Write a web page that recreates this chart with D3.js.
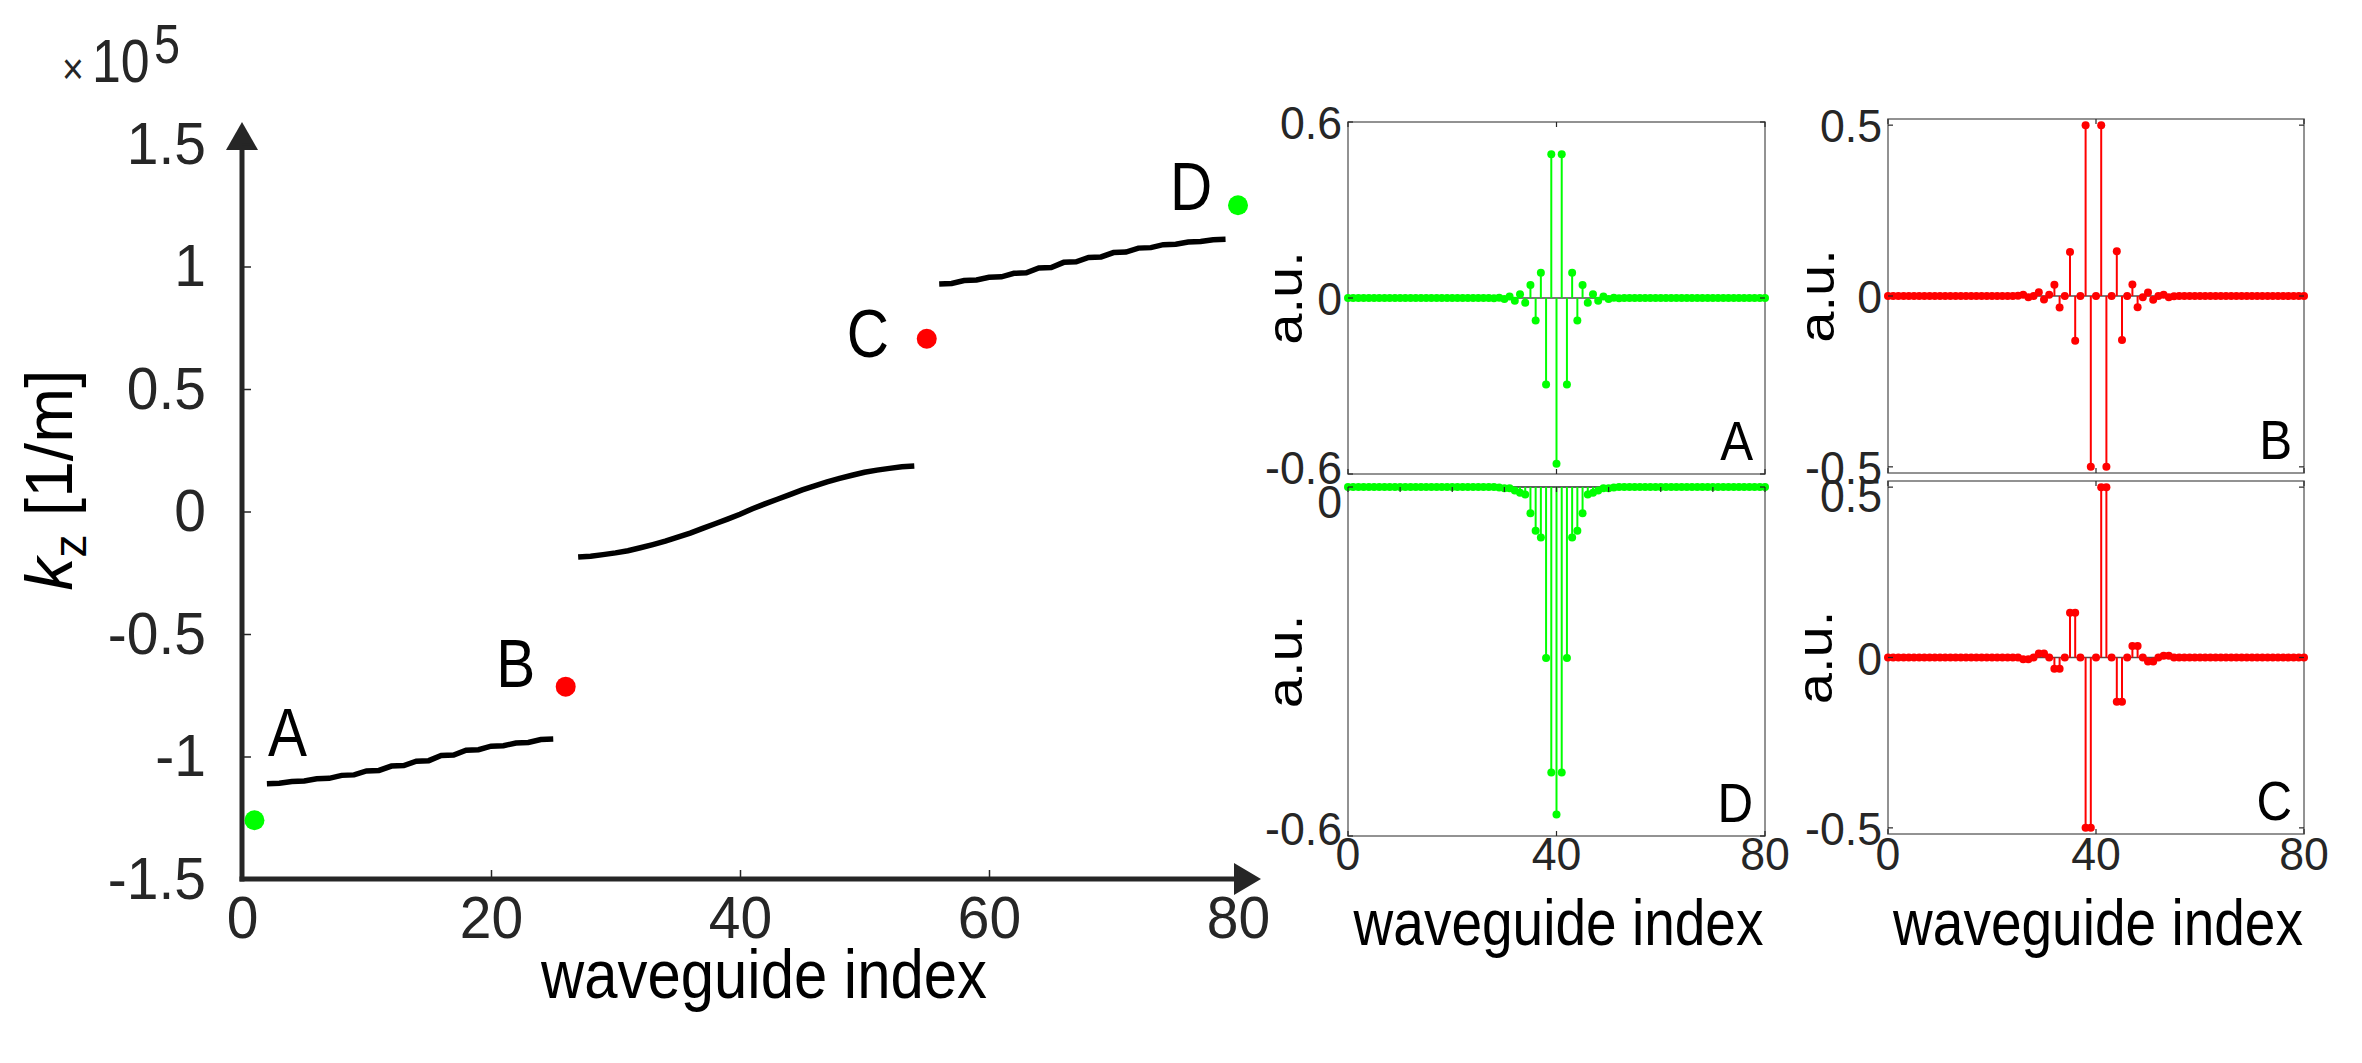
<!DOCTYPE html>
<html>
<head>
<meta charset="utf-8">
<script src="https://cdn.jsdelivr.net/npm/d3@7"></script>
<style>
body { margin: 0; background: #fff; }
svg { display: block; font-family: "Liberation Sans", Arial, Helvetica, sans-serif; }
</style>
</head>
<body>
<div id="figure"></div>
<script>
// ---------- data ----------
// left plot: kz (x 1e5 1/m) of the array modes vs mode number
var kzTicks = [-1.5, -1, -0.5, 0, 0.5, 1, 1.5];
var indexTicks = [0, 20, 40, 60, 80];

// outer bands come in near-degenerate pairs (the staircase look)
var lowerStart = 2;
var lowerBand = [-1.111, -1.109, -1.102, -1.100, -1.091, -1.089, -1.077, -1.075, -1.059, -1.057,
  -1.039, -1.037, -1.019, -1.017, -0.996, -0.994, -0.974, -0.972, -0.958, -0.956,
  -0.945, -0.943, -0.931, -0.929];
var middleStart = 27;
var middleBand = [-0.186, -0.183, -0.176, -0.169, -0.160, -0.148, -0.135, -0.121, -0.105, -0.088,
  -0.069, -0.050, -0.031, -0.011, 0.011, 0.031, 0.050, 0.069, 0.088, 0.105,
  0.121, 0.135, 0.148, 0.160, 0.169, 0.176, 0.183, 0.186];
var upperStart = 56;
var upperBand = [0.929, 0.931, 0.943, 0.945, 0.956, 0.958, 0.972, 0.974, 0.994, 0.996,
  1.017, 1.019, 1.037, 1.039, 1.057, 1.059, 1.075, 1.077, 1.089, 1.091,
  1.100, 1.102, 1.109, 1.111];

var modeNames = ["A", "B", "C", "D"];
var modeIndex = [1, 26, 55, 80];
var modeKz = [-1.26, -0.715, 0.705, 1.25];

// right plots: field profiles of modes A-D over waveguides 0..80
var profileTicksX = [0, 40, 80];
var ticksA = [-0.6, 0, 0.6];
var ticksB = [-0.5, 0, 0.5];
var ticksC = [-0.5, 0, 0.5];
var ticksD = [-0.6, 0];

var profileA = [
  0, 0, 0, 0, 0, 0, 0, 0, 0, 0,
  0, 0, 0, 0, 0, 0, 0, 0, 0, 0,
  0, 0, 0, 0, 0, 0, 0, 0, -0.001, 0.001,
  -0.003, 0.005, -0.009, 0.013, -0.016, 0.044, -0.077, 0.086, -0.295, 0.490,
  -0.565, 0.490, -0.295, 0.086, -0.077, 0.044, -0.016, 0.013, -0.009, 0.005,
  -0.003, 0.001, -0.001, 0, 0, 0, 0, 0, 0, 0,
  0, 0, 0, 0, 0, 0, 0, 0, 0, 0,
  0, 0, 0, 0, 0, 0, 0, 0, 0, 0,
  0];
var profileB = [
  0, 0, 0, 0, 0, 0, 0, 0, 0, 0,
  0, 0, 0, 0, 0, 0, 0, 0, 0, 0,
  0, 0, 0, 0, 0, 0.001, 0.004, -0.004, 0, 0.011,
  -0.010, 0.004, 0.033, -0.034, 0, 0.129, -0.131, 0, 0.500, -0.500,
  0, 0.500, -0.500, 0, 0.131, -0.129, 0, 0.034, -0.033, -0.004,
  0.010, -0.011, 0, 0.004, -0.004, -0.001, 0, 0, 0, 0,
  0, 0, 0, 0, 0, 0, 0, 0, 0, 0,
  0, 0, 0, 0, 0, 0, 0, 0, 0, 0,
  0];
var profileC = [
  0, 0, 0, 0, 0, 0, 0, 0, 0, 0,
  0, 0, 0, 0, 0, 0, 0, 0, 0, 0,
  0, 0, 0, 0, 0, 0, -0.005, -0.005, 0, 0.012,
  0.012, 0, -0.033, -0.033, 0, 0.131, 0.131, 0, -0.500, -0.500,
  0, 0.500, 0.500, 0, -0.130, -0.130, 0, 0.034, 0.034, 0,
  -0.012, -0.012, 0, 0.005, 0.005, 0, 0, 0, 0, 0,
  0, 0, 0, 0, 0, 0, 0, 0, 0, 0,
  0, 0, 0, 0, 0, 0, 0, 0, 0, 0,
  0];
var profileD = [
  0, 0, 0, 0, 0, 0, 0, 0, 0, 0,
  0, 0, 0, 0, 0, 0, 0, 0, 0, 0,
  0, 0, 0, 0, 0, 0, 0, 0, 0, -0.001,
  -0.002, -0.002, -0.006, -0.010, -0.013, -0.045, -0.075, -0.087, -0.294, -0.491,
  -0.563, -0.491, -0.294, -0.087, -0.075, -0.045, -0.013, -0.010, -0.006, -0.002,
  -0.002, -0.001, 0, 0, 0, 0, 0, 0, 0, 0,
  0, 0, 0, 0, 0, 0, 0, 0, 0, 0,
  0, 0, 0, 0, 0, 0, 0, 0, 0, 0,
  0];

// ---------- layout ----------
var svgWidth = 2362;
var svgHeight = 1063;
var green = "#00ff00";
var red = "#ff0000";
var axisColor = "#262626";

var svg = d3.select("#figure")
  .append("svg")
  .attr("width", svgWidth)
  .attr("height", svgHeight);

// text with a slight horizontal squeeze, like the original export
function addText(g, str, x, y, size, sx, anchor, rot) {
  var tf = "translate(" + x + "," + y + ")";
  if (rot) tf += " rotate(" + rot + ") scale(1," + sx + ")";
  else tf += " scale(" + sx + ",1)";
  return g.append("text")
    .attr("transform", tf)
    .attr("text-anchor", anchor)
    .attr("font-size", size)
    .text(str);
}

// ---------- main plot ----------
var xMain = d3.scaleLinear().domain([0, 80]).range([242, 1238]);
var yMain = d3.scaleLinear().domain([-1.5, 1.5]).range([879, 144]);

var main = svg.append("g");

// axes with arrow heads
main.append("line")
  .attr("x1", xMain(0)).attr("y1", yMain(-1.5) + 2.5)
  .attr("x2", xMain(0)).attr("y2", 148)
  .attr("stroke", axisColor).attr("stroke-width", 5);
main.append("path")
  .attr("d", "M" + (xMain(0) - 16) + ",150 L" + xMain(0) + ",122 L" + (xMain(0) + 16) + ",150 Z")
  .attr("fill", axisColor);
main.append("line")
  .attr("x1", xMain(0) - 2.5).attr("y1", yMain(-1.5))
  .attr("x2", 1236).attr("y2", yMain(-1.5))
  .attr("stroke", axisColor).attr("stroke-width", 5);
main.append("path")
  .attr("d", "M1234," + (yMain(-1.5) - 16) + " L1261," + yMain(-1.5) + " L1234," + (yMain(-1.5) + 16) + " Z")
  .attr("fill", axisColor);

var leftAxis = d3.axisLeft(yMain)
  .tickValues(kzTicks)
  .tickSizeInner(-9)
  .tickSizeOuter(0)
  .tickPadding(38)
  .tickFormat(function(d) { return String(d); });
var bottomAxis = d3.axisBottom(xMain)
  .tickValues(indexTicks)
  .tickSizeInner(-9)
  .tickSizeOuter(0)
  .tickPadding(16)
  .tickFormat(function(d) { return String(d); });

main.append("g")
  .attr("transform", "translate(" + xMain(0) + ",0)")
  .call(leftAxis)
  .call(function(g) { g.select(".domain").remove(); });
main.append("g")
  .attr("transform", "translate(0," + yMain(-1.5) + ")")
  .call(bottomAxis)
  .call(function(g) { g.select(".domain").remove(); });

main.selectAll(".tick line").attr("stroke", axisColor).attr("stroke-width", 1.5);
main.selectAll(".tick text")
  .attr("fill", axisColor)
  .attr("font-size", 60)
  .attr("font-family", "Liberation Sans, Arial, sans-serif")
  .attr("transform", "scale(0.95,1)");

// bands
var bandLine = function(start) {
  return d3.line()
    .x(function(d, i) { return xMain(start + i); })
    .y(function(d) { return yMain(d); });
};
[[lowerStart, lowerBand], [middleStart, middleBand], [upperStart, upperBand]].forEach(function(b) {
  main.append("path")
    .datum(b[1])
    .attr("d", bandLine(b[0]))
    .attr("fill", "none")
    .attr("stroke", "#000")
    .attr("stroke-width", 5.5);
});

// marked modes and their letters
var modeColor = [green, red, red, green];
var labelOffset = [[33, -64], [-50, 0], [-59, 18], [-47, 5]];
modeNames.forEach(function(name, i) {
  var cx = xMain(modeIndex[i]), cy = yMain(modeKz[i]);
  main.append("circle")
    .attr("cx", cx)
    .attr("cy", cy)
    .attr("r", 10)
    .attr("fill", modeColor[i]);
  addText(main, name, cx + labelOffset[i][0], cy + labelOffset[i][1], 68, 0.86, "middle");
});

// axis titles
addText(main, "waveguide index", 764, 998, 68, 0.88, "middle");
var yl = main.append("text")
  .attr("transform", "translate(72,480) rotate(-90)")
  .attr("text-anchor", "middle")
  .attr("font-size", 66);
yl.append("tspan").attr("font-style", "italic").text("k");
yl.append("tspan").attr("font-size", 46).attr("dy", 14).text("z");
yl.append("tspan").attr("dy", -14).text("\u00a0[1/m]");

// exponent
addText(main, "\u00d7", 62, 84, 44, 0.85, "start").attr("fill", axisColor);
addText(main, "10", 92, 82, 61, 0.85, "start").attr("fill", axisColor);
addText(main, "5", 154, 63, 55, 0.85, "start").attr("fill", axisColor);

// ---------- profile panels ----------
var panels = [
  { name: "A", data: profileA, color: green, ticks: ticksA, domain: [-0.6, 0.6],
    box: [1348, 1765, 122, 474], nudge: [0, -7], auX: 1302, xLabels: false, topTicks: [] },
  { name: "D", data: profileD, color: green, ticks: ticksD, domain: [-0.6, 0],
    box: [1348, 1765, 487, 836], nudge: [14, -8], auX: 1302, xLabels: true, topTicks: [10, 20, 30, 50, 60, 70] },
  { name: "B", data: profileB, color: red, ticks: ticksB, domain: [-0.518, 0.518],
    box: [1888, 2304, 119, 473], nudge: [0, 0], auX: 1834, xLabels: false, topTicks: [] },
  { name: "C", data: profileC, color: red, ticks: ticksC, domain: [-0.518, 0.518],
    box: [1888, 2304, 481, 834], nudge: [8, 0], auX: 1832, xLabels: true, topTicks: [] }
];

panels.forEach(function(p) {
  var x = d3.scaleLinear().domain([0, 80]).range([p.box[0], p.box[1]]);
  var y = d3.scaleLinear().domain(p.domain).range([p.box[3], p.box[2]]);
  var g = svg.append("g");

  g.append("rect")
    .attr("x", p.box[0]).attr("y", p.box[2])
    .attr("width", p.box[1] - p.box[0]).attr("height", p.box[3] - p.box[2])
    .attr("fill", "#fff").attr("stroke", "#6f6f6f").attr("stroke-width", 1.5);

  // baseline
  g.append("line")
    .attr("x1", x(0)).attr("x2", x(80))
    .attr("y1", y(0)).attr("y2", y(0))
    .attr("stroke", "#4d4d4d").attr("stroke-width", 1.3);

  // stems
  g.selectAll(".stem")
    .data(p.data)
    .enter()
    .append("line")
    .attr("x1", function(d, i) { return x(i); })
    .attr("x2", function(d, i) { return x(i); })
    .attr("y1", y(0))
    .attr("y2", function(d) { return y(d); })
    .attr("stroke", p.color)
    .attr("stroke-width", 2);

  g.selectAll(".dot")
    .data(p.data)
    .enter()
    .append("circle")
    .attr("cx", function(d, i) { return x(i); })
    .attr("cy", function(d) { return y(d); })
    .attr("r", 4)
    .attr("fill", p.color);

  // ticks on all four sides, pointing inward
  var tk = g.append("g").attr("stroke", axisColor).attr("stroke-width", 1.2);
  profileTicksX.concat(p.topTicks).forEach(function(v) {
    tk.append("line").attr("x1", x(v)).attr("x2", x(v)).attr("y1", p.box[2]).attr("y2", p.box[2] + 5);
  });
  profileTicksX.forEach(function(v) {
    tk.append("line").attr("x1", x(v)).attr("x2", x(v)).attr("y1", p.box[3]).attr("y2", p.box[3] - 5);
  });
  p.ticks.forEach(function(v) {
    tk.append("line").attr("x1", p.box[0]).attr("x2", p.box[0] + 5).attr("y1", y(v)).attr("y2", y(v));
    tk.append("line").attr("x1", p.box[1]).attr("x2", p.box[1] - 5).attr("y1", y(v)).attr("y2", y(v));
  });

  // y tick labels
  p.ticks.forEach(function(v, i) {
    var shift = 0;
    if (i === p.ticks.length - 1) shift = p.nudge[0];
    if (i === 0) shift = p.nudge[1];
    addText(g, String(v), p.box[0] - 6, y(v) + shift + 17, 47, 0.95, "end").attr("fill", axisColor);
  });

  if (p.xLabels) {
    profileTicksX.forEach(function(v) {
      addText(g, String(v), x(v), 870, 47, 0.95, "middle").attr("fill", axisColor);
    });
    addText(g, "waveguide index", (p.box[0] + p.box[1]) / 2 + 2, 945, 64, 0.86, "middle");
  }

  addText(g, "a.u.", p.auX, (p.box[2] + p.box[3]) / 2, 56, 0.88, "middle", -90);
  addText(g, p.name, p.box[1] - 12, p.box[3] - 14, 56, 0.88, "end");
});
</script>
</body>
</html>
